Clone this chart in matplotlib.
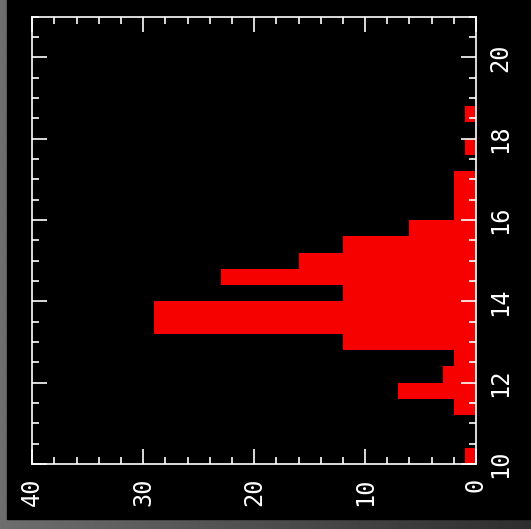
import numpy as np
import matplotlib.pyplot as plt
from matplotlib.patches import Rectangle
from matplotlib.ticker import MultipleLocator

# histogram bins (0.4 wide) and counts
bin_edges = [10.0, 10.4, 10.8, 11.2, 11.6, 12.0, 12.4, 12.8, 13.2, 13.6, 14.0,
             14.4, 14.8, 15.2, 15.6, 16.0, 16.4, 16.8, 17.2, 17.6, 18.0, 18.4, 18.8]
counts = [1, 0, 0, 2, 7, 3, 2, 12, 29, 29, 12,
          23, 16, 12, 6, 2, 2, 2, 0, 1, 0, 1]

count_ticks = [0, 10, 20, 30, 40]
mag_ticks = [10, 12, 14, 16, 18, 20]

W, H = 531, 529
fig = plt.figure(figsize=(W / 100, H / 100), dpi=100)

# grey frame with a soft left-to-right gradient
bg = fig.add_axes([0, 0, 1, 1])
grad = np.tile(np.linspace(0.43, 0.18, 256), (8, 1))
bg.imshow(grad, cmap='gray', vmin=0, vmax=1, aspect='auto', extent=[0, 1, 0, 1])
bg.set_xlim(0, 1)
bg.set_ylim(0, 1)
bg.axis('off')
bg.add_patch(Rectangle((7 / W, 10 / H), 1, 1, color='black', zorder=2))

ax = fig.add_axes([32.3 / W, 1 - 464 / H, (476 - 32.3) / W, (464 - 16.7) / H])
ax.set_facecolor('black')

ax.barh(bin_edges[:-1], counts, height=0.4, align='edge', color='#f70000', linewidth=0)

ax.set_xlim(40, 0)
ax.set_ylim(10, 21)
ax.xaxis.set_major_locator(MultipleLocator(10))
ax.xaxis.set_minor_locator(MultipleLocator(2))
ax.yaxis.set_major_locator(MultipleLocator(2))
ax.yaxis.set_minor_locator(MultipleLocator(0.5))
ax.set_xticks(count_ticks)
ax.set_yticks(mag_ticks)

for s in ax.spines.values():
    s.set_color('white')
    s.set_linewidth(1.2)

ax.tick_params(which='both', direction='in', colors='white', width=1.2,
               top=True, bottom=True, left=True, right=True,
               labelleft=False, labelright=True, labelbottom=True)
ax.tick_params(which='major', length=10.5)
ax.tick_params(which='minor', length=5)
ax.tick_params(axis='x', which='major', pad=10)
ax.tick_params(axis='y', which='major', pad=9)

for lab in ax.get_xticklabels() + ax.get_yticklabels():
    lab.set_rotation(90)
    lab.set_fontsize(17)
    lab.set_family('DejaVu Sans Mono')
for lab in ax.get_xticklabels():
    lab.set_ha('center')
    lab.set_va('top')
for lab in ax.get_yticklabels():
    lab.set_ha('left')
    lab.set_va('center')

fig.savefig('out.png', dpi=100)
